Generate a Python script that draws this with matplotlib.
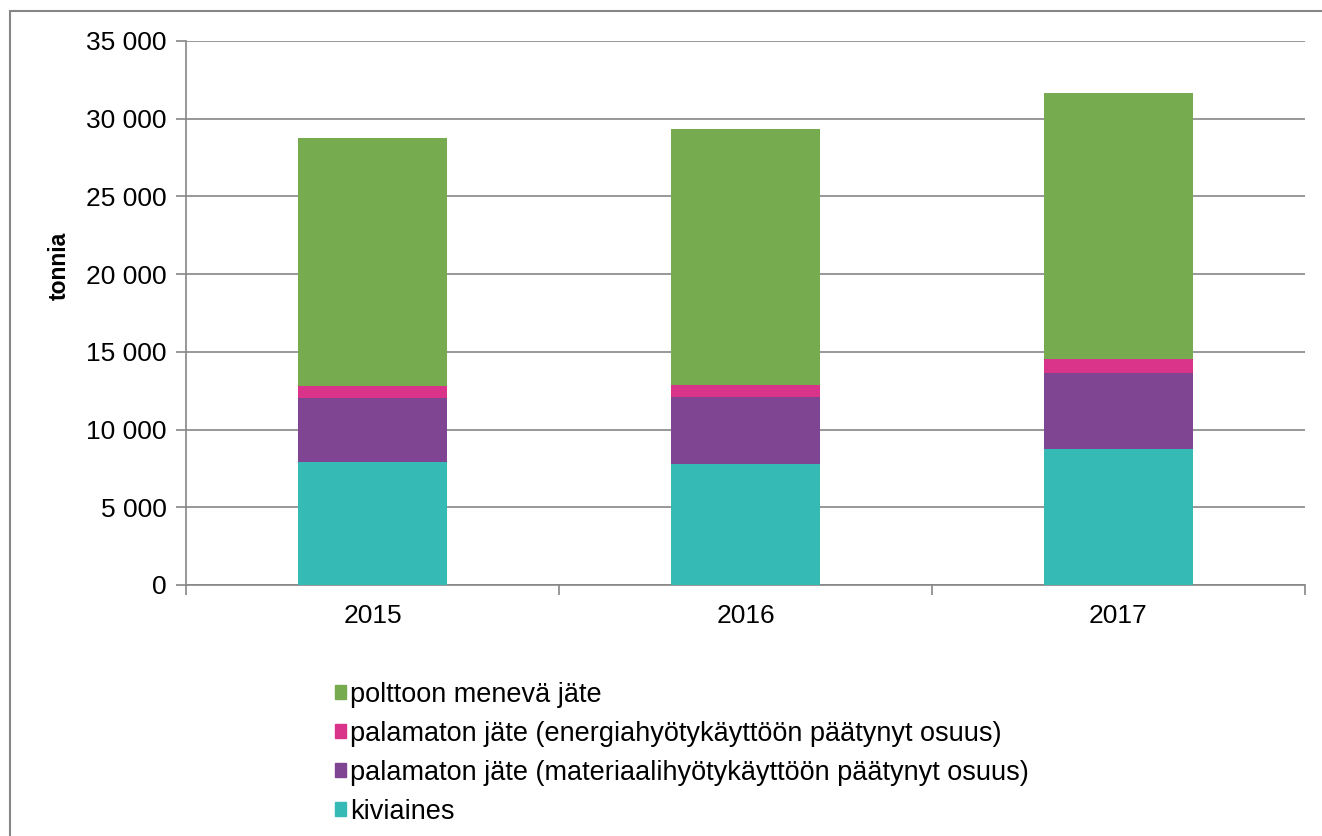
import matplotlib.pyplot as plt
from matplotlib.patches import Patch, Rectangle
from matplotlib.ticker import FuncFormatter, FixedLocator

plt.rcParams['font.family'] = ['Liberation Sans', 'DejaVu Sans']

years = ['2015', '2016', '2017']
kiviaines = [7900, 7780, 8780]
materiaali = [4140, 4320, 4890]
energia = [770, 770, 900]
polttoon = [15950, 16460, 17100]

labels = ['kiviaines',
          'palamaton jäte (materiaalihyötykäyttöön päätynyt osuus)',
          'palamaton jäte (energiahyötykäyttöön päätynyt osuus)',
          'polttoon menevä jäte']
colors = ['#35BAB6', '#804592', '#D9348A', '#76AB4F']

fig = plt.figure(figsize=(13.22, 8.36), dpi=100)
ax = fig.add_axes([186 / 1322, 1 - 585 / 836, (1305 - 186) / 1322, (585 - 41) / 836])

x = range(len(years))
bottom = [0, 0, 0]
for vals, lab, col in zip([kiviaines, materiaali, energia, polttoon], labels, colors):
    ax.bar(x, vals, width=0.4, bottom=bottom, color=col, label=lab, zorder=3)
    bottom = [b + v for b, v in zip(bottom, vals)]

ax.set_xlim(-0.5, 2.5)
ax.set_ylim(0, 35000)
ax.set_yticks(range(0, 35001, 5000))
ax.yaxis.set_major_formatter(FuncFormatter(lambda v, p: f'{int(v):,}'.replace(',', ' ')))
ax.set_xticks(list(x))
ax.set_xticklabels(years)
ax.xaxis.set_minor_locator(FixedLocator([-0.5, 0.5, 1.5, 2.5]))
ax.tick_params(axis='x', which='major', length=0, pad=14, labelsize=19)
ax.tick_params(axis='x', which='minor', length=7, direction='out', color='#868686', width=1.2)
ax.tick_params(axis='y', length=7, direction='out', color='#868686', width=1.2, labelsize=19, pad=7)
ax.grid(axis='y', color='#868686', linewidth=1.2, zorder=0)
for s in ['top', 'right']:
    ax.spines[s].set_visible(False)
for s in ['left', 'bottom']:
    ax.spines[s].set_color('#868686')
    ax.spines[s].set_linewidth(1.2)
ax.set_ylabel('tonnia', fontsize=16.5, fontweight='bold')
ax.yaxis.set_label_coords((71 - 186) / 1119, (585 - 266) / 544)

handles = [Patch(color=c) for c in colors][::-1]
fig.legend(handles, labels[::-1], loc='upper left', bbox_to_anchor=(324 / 1322, 1 - 671 / 836),
           frameon=False, fontsize=19.5, handlelength=0.42, handleheight=0.42,
           handletextpad=0.15, labelspacing=0.48, borderaxespad=0)

fig.patches.append(Rectangle((10 / 1322, -0.1), 1.2, 1.1 - 11 / 836, transform=fig.transFigure,
                             fill=False, edgecolor='#868686', linewidth=1.5))

fig.savefig('out.png', dpi=100)
